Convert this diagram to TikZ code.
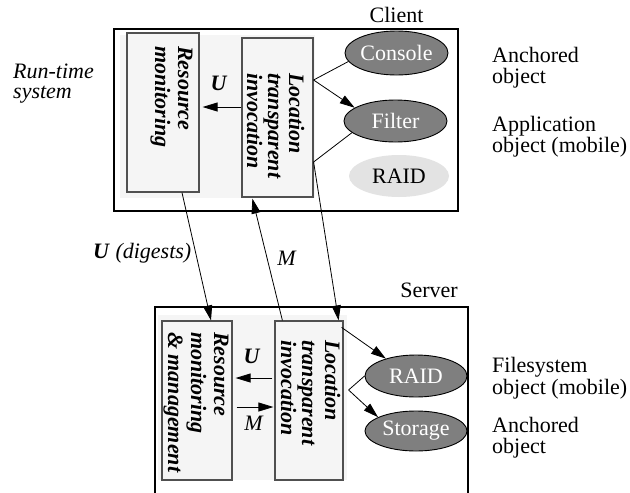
\documentclass[tikz,border=0pt]{standalone}
\usepackage{fontspec}
\setmainfont{Liberation Serif}
\usetikzlibrary{arrows.meta,shapes.geometric,calc}
\definecolor{shadegray}{HTML}{F5F5F5}
\definecolor{darkobj}{HTML}{7F7F7F}
\definecolor{lightobj}{HTML}{E3E3E3}
\definecolor{boxedge}{HTML}{505050}
\begin{document}
\begin{tikzpicture}[x=1pt,y=-1pt,
  every node/.style={font=\fontsize{22}{22}\selectfont, inner sep=0pt},
  frame/.style={draw=black, line width=1.6pt, fill=white},
  region/.style={fill=shadegray, draw=none},
  procbox/.style={draw=boxedge, line width=1.2pt, fill=shadegray},
  obj/.style={ellipse, draw=black, line width=0.9pt, fill=darkobj, text=white},
  ghost/.style={ellipse, fill=lightobj, draw=none},
  conn/.style={line width=0.8pt},
  arr/.style={conn, -{Triangle[length=15pt,width=9pt]}},
  vtext/.style={rotate=-90, anchor=base west, font=\fontsize{22}{22}\selectfont\bfseries\itshape},
  lbl/.style={anchor=base west},
]
\useasboundingbox (0,0) rectangle (630,493);
\fill[white] (0,0) rectangle (630,493);

% ---------- Client ----------
\node[frame, minimum width=344, minimum height=182] (client) at (286,120) {};
\node[region, minimum width=195, minimum height=163] (cshade) at (217.5,116.5) {};
\node[procbox, minimum width=72, minimum height=159] (crm) at (163,112.5) {};
\node[procbox, minimum width=71, minimum height=159] (clti) at (277.5,117.5) {};
\node[obj, minimum width=103, minimum height=44] (console) at (396.5,53) {Console};
\node[obj, minimum width=103, minimum height=42] (filter) at (395.5,121) {Filter};
\node[ghost, minimum width=100, minimum height=42] (craid) at (399,176) {RAID};
\node[anchor=base] (clientlbl) at (396.5,22) {Client};

\node[vtext] (crm1) at (178,46) {Resource};
\node[vtext] (crm2) at (155,46) {monitoring};
\node[vtext] (clti1) at (289,73) {Location};
\node[vtext] (clti2) at (268,73) {transparent};
\node[vtext] (clti3) at (247,73) {invocation};
\node[anchor=base] (cu) at (219,90) {\textbf{\textit{U}}};

% ---------- Server ----------
\draw[line width=1.6pt] (155,493) -- (155,307) -- (468,307) -- (468,493);
\node[region, minimum width=189, minimum height=165] (sshade) at (252.5,397.5) {};
\node[procbox, minimum width=70, minimum height=159] (srm) at (197,400.5) {};
\node[procbox, minimum width=68, minimum height=159] (slti) at (309,400.5) {};
\node[obj, minimum width=102, minimum height=42] (sraid) at (416,376) {RAID};
\node[obj, minimum width=102, minimum height=40] (storage) at (416,431) {Storage};
\node[anchor=base] (serverlbl) at (429,297) {Server};

\node[vtext] (srm1) at (214,332) {Resource};
\node[vtext] (srm2) at (191,332) {monitoring};
\node[vtext] (srm3) at (168,332) {\& management};
\node[vtext] (slti1) at (325,340) {Location};
\node[vtext] (slti2) at (302,340) {transparent};
\node[vtext] (slti3) at (281,340) {invocation};
\node[anchor=base] (su) at (252,363) {\textbf{\textit{U}}};
\node[anchor=base] (sm) at (254,430) {\textit{M}};

% ---------- Side labels ----------
\node[lbl] (rt1) at (13,78) {\textit{Run-time}};
\node[lbl] (rt2) at (13,98) {\textit{system}};
\node[lbl] (la1) at (492,62) {Anchored};
\node[lbl] (la2) at (492,83) {object};
\node[lbl] (lb1) at (492,131) {Application};
\node[lbl] (lb2) at (492,152) {object (mobile)};
\node[lbl] (lc1) at (492,372) {Filesystem};
\node[lbl] (lc2) at (492,394) {object (mobile)};
\node[lbl] (ld1) at (492,432) {Anchored};
\node[lbl] (ld2) at (492,453) {object};
\node[lbl] (digests) at (93,258) {\textbf{\textit{U}} \textit{(digests)}};
\node[anchor=base] (mmid) at (287,265) {\textit{M}};

% ---------- Connectors ----------
\coordinate (cj1) at ($(clti.east)+(0,-37.5)$);
\coordinate (cj2) at ($(clti.east)+(0,44.5)$);
\draw[conn] (cj1) -- (console.190);
\draw[arr] (cj1) -- (filter.162);
\draw[arr] (filter.195) -- (cj2) -- ($(slti.north east)+(-5,0)$);
\draw[arr] ($(clti.west)+(0,-10.5)$) -- ($(crm.east)+(3,-5.5)$);
\draw[arr] ($(crm.south)+(19,0)$) -- ($(srm.north)+(14,0)$);
\draw[arr] ($(slti.north west)+(8,0)$) -- ($(clti.south west)+(11,1)$);
\draw[arr] ($(slti.west)+(-2,-22.5)$) -- ($(srm.east)+(3,-22.5)$);
\draw[arr] ($(srm.east)+(4,6.5)$) -- ($(slti.west)+(-1,6.5)$);
\draw[arr] ($(slti.north east)+(-2,7)$) -- (sraid.150);
\coordinate (sj) at ($(slti.east)+(5,-10.5)$);
\draw[arr] (sraid.west) -- (sj) -- (storage.160);
\end{tikzpicture}
\end{document}
